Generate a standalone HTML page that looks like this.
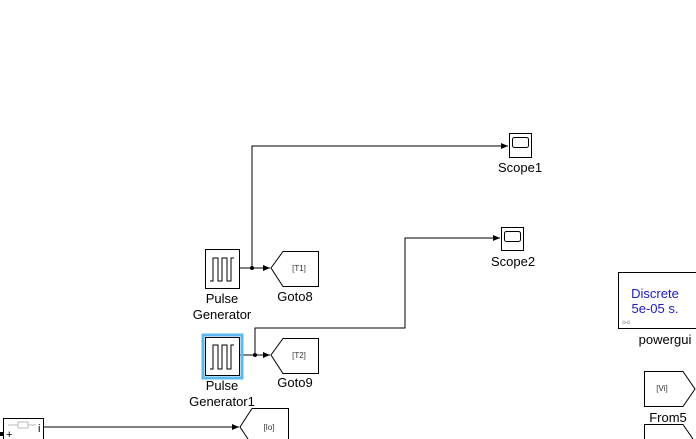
<!DOCTYPE html>
<html><head><style>body{margin:0;background:#fff}svg{display:block}text{font-family:"Liberation Sans",sans-serif}</style></head><body>
<svg width="696" height="439" viewBox="0 0 696 439" xmlns="http://www.w3.org/2000/svg">
<defs><marker id="a" markerWidth="8" markerHeight="8" refX="7" refY="4" orient="auto" markerUnits="userSpaceOnUse"><path d="M0,1 L7,4 L0,7 Z" fill="#000"/></marker></defs>
<g fill="none" stroke="#000" stroke-width="1">
<path d="M240,268 H270" marker-end="url(#a)"/>
<path d="M252,268 V146 H508" marker-end="url(#a)"/>
<path d="M240,355 H270" marker-end="url(#a)"/>
<path d="M255,355 V328 H405 V238 H500" marker-end="url(#a)"/>
<path d="M44,427 H239" marker-end="url(#a)"/>
</g>
<circle cx="252" cy="268" r="2" fill="#000"/>
<circle cx="255" cy="355" r="2" fill="#000"/>
<!-- pulse generators -->
<rect x="205.5" y="249.5" width="34" height="39" fill="#fff" stroke="#000"/>
<path d="M210,281 H213 V258 H218 V281 H222 V258 H227 V281 H231 V258 H234" fill="none" stroke="#000"/>
<rect x="203" y="335" width="39" height="43" fill="none" stroke="#5ab8f0" stroke-width="3"/>
<rect x="205.5" y="337.5" width="34" height="38" fill="#fff" stroke="#000"/>
<path d="M210,369 H213 V345 H218 V369 H222 V345 H227 V369 H231 V345 H234" fill="none" stroke="#000"/>
<text x="222" y="303" font-size="13" text-anchor="middle">Pulse</text>
<text x="222" y="319" font-size="13" text-anchor="middle">Generator</text>
<text x="222" y="390" font-size="13" text-anchor="middle">Pulse</text>
<text x="222" y="406" font-size="13" text-anchor="middle">Generator1</text>
<!-- gotos -->
<path d="M271,268 L283,251.5 H318.5 V286.5 H283 Z" fill="#fff" stroke="#000"/>
<text x="299" y="271" font-size="8" fill="#333" text-anchor="middle">[T1]</text>
<text x="295" y="301" font-size="13" text-anchor="middle">Goto8</text>
<path d="M271,355 L283,338.5 H318.5 V373.5 H283 Z" fill="#fff" stroke="#000"/>
<text x="299" y="358" font-size="8" fill="#333" text-anchor="middle">[T2]</text>
<text x="295" y="387" font-size="13" text-anchor="middle">Goto9</text>
<path d="M240,427 L252,408.5 H288.5 V445 H252 Z" fill="#fff" stroke="#000"/>
<text x="269" y="430" font-size="8" fill="#333" text-anchor="middle">[Io]</text>
<!-- scopes -->
<rect x="509.5" y="133.5" width="22" height="24" fill="#fff" stroke="#000"/>
<rect x="512.5" y="137.5" width="16" height="10" rx="2" fill="#fff" stroke="#000"/>
<text x="520" y="172" font-size="13" text-anchor="middle">Scope1</text>
<rect x="501.5" y="227.5" width="22" height="23" fill="#fff" stroke="#000"/>
<rect x="504.5" y="231.5" width="16" height="10" rx="2" fill="#fff" stroke="#000"/>
<text x="513" y="266" font-size="13" text-anchor="middle">Scope2</text>
<!-- bottom-left block -->
<rect x="3.5" y="418.5" width="40" height="30" fill="#fff" stroke="#000"/>
<path d="M8,425 H18 M28,425 H36" stroke="#bbb"/>
<rect x="18" y="422" width="10" height="6" fill="none" stroke="#bbb"/>
<text x="38" y="432" font-size="11">i</text>
<text x="6" y="438" font-size="11">+</text>
<rect x="0" y="432" width="3" height="4" fill="#000"/>
<!-- powergui -->
<rect x="618.5" y="272.5" width="90" height="56" fill="#fff" stroke="#000"/>
<text x="655" y="298" font-size="13" fill="#1a1ad0" text-anchor="middle">Discrete</text>
<text x="655" y="313" font-size="13" fill="#1a1ad0" text-anchor="middle">5e-05 s.</text>
<text x="622" y="326" font-size="10" fill="#aaa">⚯</text>
<text x="665" y="344" font-size="13" text-anchor="middle">powergui</text>
<!-- from -->
<path d="M644.5,371.5 H683 L695,389 L683,406.5 H644.5 Z" fill="#fff" stroke="#000"/>
<text x="662" y="391" font-size="8" fill="#333" text-anchor="middle">[Vi]</text>
<text x="668" y="422" font-size="13" text-anchor="middle">From5</text>
<path d="M644.5,424.5 H683 L695,442 L683,460 H644.5 Z" fill="#fff" stroke="#000"/>
</svg>
</body></html>
